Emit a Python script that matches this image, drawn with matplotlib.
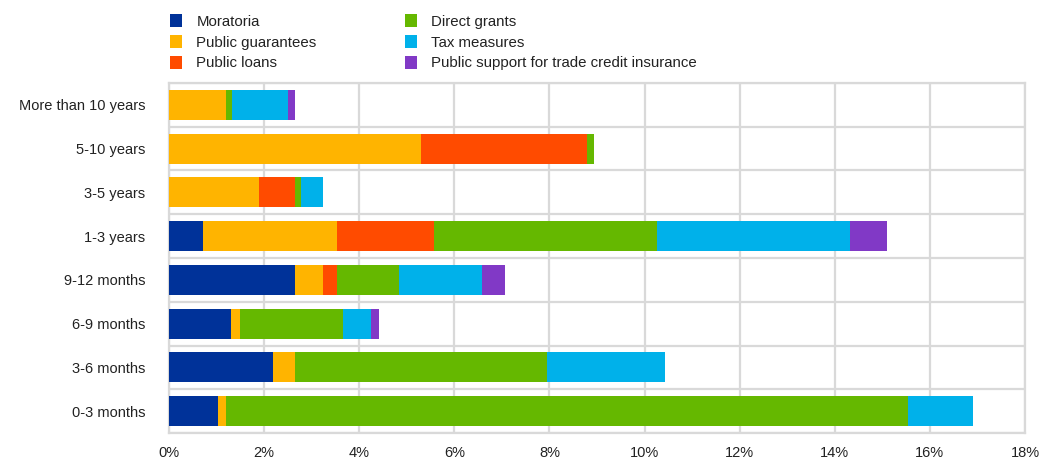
import matplotlib
matplotlib.use("Agg")
import matplotlib.pyplot as plt
from matplotlib.patches import Patch
import numpy as np

plt.rcParams['font.family'] = ['Liberation Sans', 'DejaVu Sans']

categories = ["0-3 months", "3-6 months", "6-9 months", "9-12 months",
              "1-3 years", "3-5 years", "5-10 years", "More than 10 years"]
series_names = ["Moratoria", "Public guarantees", "Public loans",
                "Direct grants", "Tax measures",
                "Public support for trade credit insurance"]
moratoria   = [1.02, 2.19, 1.30, 2.65, 0.72, 0.00, 0.00, 0.00]
guarantees  = [0.17, 0.47, 0.19, 0.59, 2.81, 1.90, 5.29, 1.19]
loans       = [0.00, 0.00, 0.00, 0.29, 2.04, 0.75, 3.51, 0.00]
grants      = [14.36, 5.28, 2.17, 1.30, 4.70, 0.13, 0.13, 0.13]
tax         = [1.35, 2.48, 0.59, 1.76, 4.06, 0.46, 0.00, 1.18]
trade_credit = [0.00, 0.00, 0.16, 0.47, 0.76, 0.00, 0.00, 0.15]
colors = ["#003299", "#FFB400", "#FF4B00", "#65B800", "#00B1EA", "#8139C6"]
xticks = [0, 2, 4, 6, 8, 10, 12, 14, 16, 18]

series = [moratoria, guarantees, loans, grants, tax, trade_credit]

fig = plt.figure(figsize=(10.47, 4.61), dpi=100)
ax = fig.add_axes([169/1047, 1-433/461, (1025-169)/1047, (433-83)/461])

y = np.arange(len(categories))
left = np.zeros(len(categories))
for vals, c in zip(series, colors):
    v = np.array(vals)
    ax.barh(y, v, left=left, height=0.69, color=c, zorder=3)
    left += v

ax.set_xlim(0, 18)
ax.set_ylim(-0.5, len(categories) - 0.5)
ax.set_xticks(xticks)
ax.set_xticklabels([f"{t}%" for t in xticks])
ax.set_yticks(y)
ax.set_yticklabels(categories)
ax.set_yticks(np.arange(-0.5, len(categories), 1.0), minor=True)
ax.tick_params(axis='both', which='both', length=0, labelsize=10.5, colors='#222222')
ax.tick_params(axis='y', pad=17)
ax.tick_params(axis='x', pad=9)
ax.grid(True, axis='x', color='#d9d9d9', linewidth=1.6, zorder=0)
ax.grid(True, axis='y', which='minor', color='#d9d9d9', linewidth=1.6, zorder=0)
ax.grid(False, axis='y', which='major')
for s in ax.spines.values():
    s.set_color('#d9d9d9')
    s.set_linewidth(1.6)

handles = [Patch(facecolor=c, edgecolor='none') for c in colors]
leg = fig.legend(handles, series_names, ncol=2, loc='upper left',
           bbox_to_anchor=(170/1047, 1 - 14/461), frameon=False,
           fontsize=10.8, handlelength=0.8, handleheight=0.95,
           handletextpad=0.95, columnspacing=5.9, labelspacing=0.42,
           borderaxespad=0, borderpad=0)
for t in leg.get_texts():
    t.set_color('#222222')

fig.savefig("out.png", dpi=100)
